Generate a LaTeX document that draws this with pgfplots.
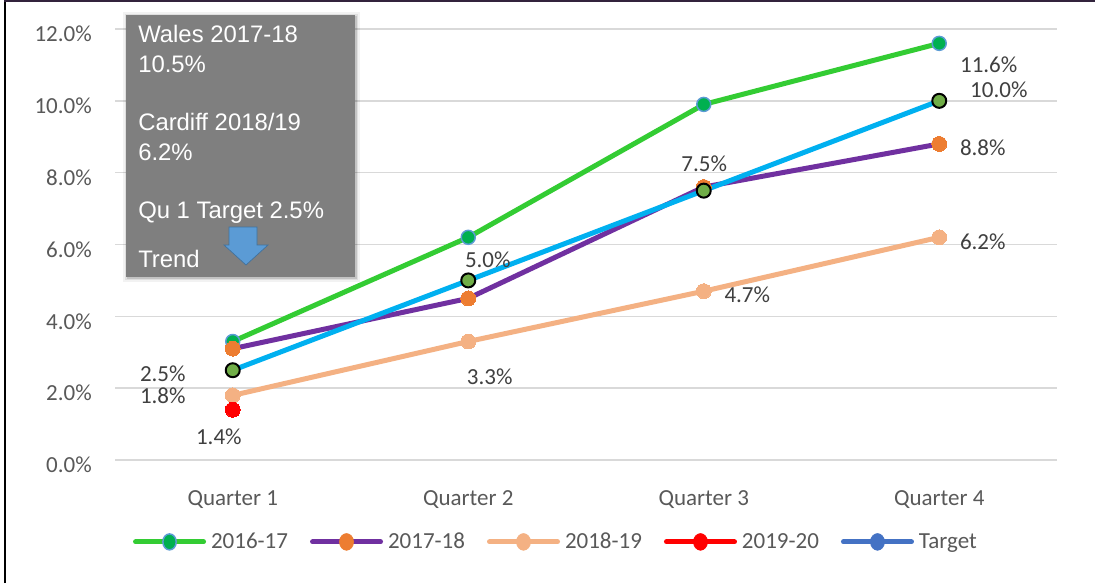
\documentclass[border=0pt]{standalone}
\usepackage{pgfplots}
\pgfplotsset{compat=1.18}
\usepackage{fontspec}
\setmainfont{Carlito}
\newfontfamily\boxfont{Liberation Sans}
\definecolor{c1617}{RGB}{51,204,51}
\definecolor{m1617}{RGB}{0,176,80}
\definecolor{e1617}{RGB}{91,155,213}
\definecolor{c1718}{RGB}{112,48,160}
\definecolor{m1718}{RGB}{237,125,49}
\definecolor{c1819}{RGB}{244,177,131}
\definecolor{c1920}{RGB}{255,0,0}
\definecolor{ctarget}{RGB}{0,176,240}
\definecolor{mtarget}{RGB}{112,173,71}
\definecolor{ltarget}{RGB}{68,114,196}
\definecolor{gridc}{RGB}{217,217,217}
\definecolor{tickc}{RGB}{89,89,89}
\definecolor{lblc}{RGB}{64,64,64}
\definecolor{boxc}{RGB}{127,127,127}
\definecolor{arrowc}{RGB}{91,155,213}
\definecolor{arrowe}{RGB}{65,113,156}
\definecolor{topc}{RGB}{50,35,60}
\tikzset{lbl/.style={font=\fontsize{17.25}{20}\selectfont, text=lblc, inner sep=0pt, anchor=center}}
\begin{document}
\begin{tikzpicture}
\useasboundingbox (0,0) rectangle (821.25pt,-437.25pt);
\fill[white] (0,0) rectangle (821.25pt,-437.25pt);
\begin{axis}[
  at={(86.25pt,-345pt)}, anchor=south west,
  width=706.5pt, height=323.25pt, scale only axis,
  xmin=-0.5, xmax=3.5, ymin=0, ymax=12,
  xtick={0,1,2,3}, xticklabels={Quarter 1,Quarter 2,Quarter 3,Quarter 4},
  ytick={0,2,4,6,8,10,12},
  ymajorgrids, major grid style={color=gridc, line width=1.1pt},
  axis line style={draw=none}, major tick length=0pt,
  tick label style={font=\fontsize{17.25}{20}\selectfont, color=tickc},
  yticklabel={\pgfmathprintnumber[fixed,fixed zerofill,precision=1,assume math mode=true]{\tick}\%},
  yticklabel style={anchor=east, inner sep=0pt, xshift=-17.25pt, yshift=-3.75pt},
  xticklabel style={anchor=base, inner sep=0pt, yshift=-33.75pt},
  clip=false,
  legend columns=5,
  legend style={at={(0.467,-0.190)}, anchor=center, draw=none, fill=none,
    inner sep=0pt, font=\fontsize{17.25}{20}\selectfont, text=tickc,
    nodes={inner sep=0pt},
    /tikz/every odd column/.append style={column sep=3.75pt},
    /tikz/every even column/.append style={column sep=16.5pt}},
  legend cell align=left,
]
\addlegendimage{legend image code/.code={\draw[line width=3.75pt, c1617, line cap=round] (0pt,0pt) -- (51pt,0pt); \filldraw[fill=m1617, draw=e1617, line width=1.1pt] (25.5pt,0pt) ellipse (5pt and 6pt);}}
\addlegendentry{2016-17}
\addlegendimage{legend image code/.code={\draw[line width=3.75pt, c1718, line cap=round] (0pt,0pt) -- (51pt,0pt); \fill[m1718] (25.5pt,0pt) ellipse (5.3pt and 6.3pt);}}
\addlegendentry{2017-18}
\addlegendimage{legend image code/.code={\draw[line width=3.75pt, c1819, line cap=round] (0pt,0pt) -- (51pt,0pt); \fill[c1819] (25.5pt,0pt) ellipse (5.3pt and 6.3pt);}}
\addlegendentry{2018-19}
\addlegendimage{legend image code/.code={\draw[line width=3.75pt, c1920, line cap=round] (0pt,0pt) -- (51pt,0pt); \fill[c1920] (25.5pt,0pt) ellipse (5.3pt and 6.3pt);}}
\addlegendentry{2019-20}
\addlegendimage{legend image code/.code={\draw[line width=3.75pt, ltarget, line cap=round] (0pt,0pt) -- (51pt,0pt); \fill[ltarget] (25.5pt,0pt) ellipse (5.3pt and 6.3pt);}}
\addlegendentry{Target}

\addplot[forget plot, c1617, line width=3.75pt, line join=round, line cap=round, mark=*, mark size=5.25pt,
  mark options={fill=m1617, draw=e1617, line width=1.1pt}]
  coordinates {(0,3.3) (1,6.2) (2,9.9) (3,11.6)};
\addplot[forget plot, c1718, line width=3.75pt, line join=round, line cap=round, mark=*, mark size=5.6pt,
  mark options={fill=m1718, draw=m1718, line width=0pt}]
  coordinates {(0,3.1) (1,4.5) (2,7.6) (3,8.8)};
\addplot[forget plot, c1819, line width=3.75pt, line join=round, line cap=round, mark=*, mark size=5.6pt,
  mark options={fill=c1819, draw=c1819, line width=0pt}]
  coordinates {(0,1.8) (1,3.3) (2,4.7) (3,6.2)};
\addplot[forget plot, only marks, mark=*, mark size=5.6pt,
  mark options={fill=c1920, draw=c1920, line width=0pt}]
  coordinates {(0,1.4)};
\addplot[forget plot, ctarget, line width=3.75pt, line join=round, line cap=round, mark=*, mark size=5.25pt,
  mark options={fill=mtarget, draw=black, line width=1.5pt}]
  coordinates {(0,2.5) (1,5.0) (2,7.5) (3,10.0)};

\node[lbl] at (axis cs:-0.297,2.40) {2.5\%};
\node[lbl] at (axis cs:-0.297,1.79) {1.8\%};
\node[lbl] at (axis cs:-0.059,0.64) {1.4\%};
\node[lbl] at (axis cs:1.091,2.31) {3.3\%};
\node[lbl] at (axis cs:1.083,5.58) {5.0\%};
\node[lbl] at (axis cs:2.185,4.59) {4.7\%};
\node[lbl] at (axis cs:2.002,8.24) {7.5\%};
\node[lbl] at (axis cs:3.210,11.01) {11.6\%};
\node[lbl] at (axis cs:3.253,10.30) {10.0\%};
\node[lbl] at (axis cs:3.185,8.69) {8.8\%};
\node[lbl] at (axis cs:3.185,6.07) {6.2\%};
\end{axis}
% text box with shadow
\fill[black, opacity=0.05] (92.25pt,-9pt) rectangle (270pt,-211.5pt);
\fill[black, opacity=0.08] (93.75pt,-10.5pt) rectangle (268.5pt,-210pt);
\fill[black, opacity=0.12] (95.25pt,-12pt) rectangle (267.75pt,-209.25pt);
\fill[boxc] (94.5pt,-11.25pt) rectangle (266.25pt,-207.75pt);
\begin{scope}[every node/.style={anchor=base west, inner sep=0pt, text=white, font=\boxfont\fontsize{17.9}{21}\selectfont}]
\node at (103.5pt,-31.5pt) {Wales 2017-18};
\node at (103.5pt,-54pt) {10.5\%};
\node at (103.5pt,-97.5pt) {Cardiff 2018/19};
\node at (103.5pt,-120pt) {6.2\%};
\node at (103.5pt,-163.5pt) {Qu 1 Target 2.5\%};
\node at (103.5pt,-200.25pt) {Trend};
\end{scope}
\filldraw[fill=arrowc, draw=arrowe, line width=0.5pt]
  (171.75pt,-170.25pt) -- (192.75pt,-170.25pt) -- (192.75pt,-183.75pt) -- (201pt,-183.75pt)
  -- (184.5pt,-198.75pt) -- (168pt,-183.75pt) -- (171.75pt,-183.75pt) -- cycle;
% frame
\draw[black, line width=1.5pt] (3.75pt,-437.25pt) -- (3.75pt,-0.75pt);
\draw[topc, line width=1.5pt] (3pt,-0.75pt) -- (821.25pt,-0.75pt);
\end{tikzpicture}
\end{document}
